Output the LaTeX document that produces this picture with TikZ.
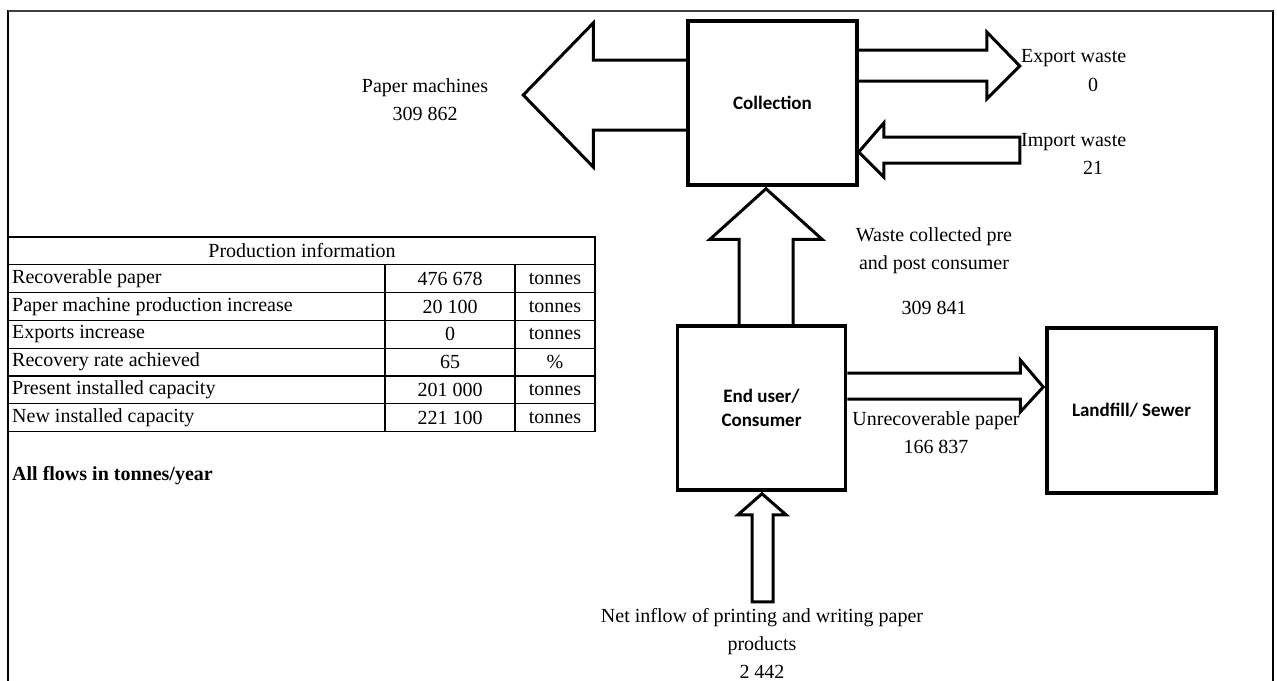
\documentclass[tikz,border=0pt]{standalone}
\usepackage{fontspec}
\setmainfont{Liberation Serif}
\newfontfamily\boxfont{Carlito}
\usetikzlibrary{calc}

\begin{document}
\begin{tikzpicture}[x=1pt,y=-1pt,
  box/.style={draw, line width=3.5pt, fill=white, inner sep=0pt, align=center,
    font=\boxfont\bfseries\fontsize{19}{24}\selectfont},
  flow/.style={draw, line width=3pt, line join=miter, fill=white},
  lbl/.style={inner sep=0pt, align=center, font=\fontsize{20}{28}\selectfont},
  cell/.style={inner sep=0pt, font=\fontsize{20}{24}\selectfont},
  grid/.style={line width=1.2pt},
  frame/.style={line width=2.6pt, line cap=rect}]
\useasboundingbox (0,0) rectangle (1277,680);

% outer frame, open at the bottom
\coordinate (ftl) at (8,11);
\coordinate (ftr) at (1273,11);
\coordinate (fbl) at (8,690);
\coordinate (fbr) at (1273,690);
\draw[frame] (fbl) -- (ftl);
\draw[frame] (ftr) -- (fbr);
\draw[line width=1.4pt, black!75] (ftl) -- (ftr);

% stages of the flow
\node[box, minimum width=169pt, minimum height=164pt] (coll) at (772.5,103) {Collection};
\node[box, minimum width=168pt, minimum height=164pt] (user) at (761.5,408) {End user/\\Consumer};
\node[box, minimum width=169pt, minimum height=165pt] (fill) at (1131.5,410.5) {Landfill/ Sewer};

% paper machines: out of collection to the left
\draw[flow] ($(coll.west)+(0,-43)$) -- ++(-93,0) -- ++(0,-37)
  -- ($(coll.west)+(-163,-8)$) -- ($(coll.west)+(-93,64)$) -- ++(0,-37) -- ($(coll.west)+(0,27)$);
% export waste: out of collection to the right
\draw[flow] ($(coll.east)+(0,-53)$) -- ++(128,0) -- ++(0,-18)
  -- ($(coll.east)+(161,-37)$) -- ($(coll.east)+(128,-4)$) -- ++(0,-18) -- ($(coll.east)+(0,-22)$);
% import waste: into collection from the right
\draw[flow] ($(coll.east)+(0,49)$) -- ++(25,-29) -- ++(0,14) -- ++(136,0) -- ++(0,26)
  -- ++(-136,0) -- ++(0,14) -- cycle;
% waste collected: from end user up to collection
\coordinate (upTip) at ($(coll.south)+(-6.5,2)$);
\draw[flow] ($(user.north)+(-22.5,0)$) -- ++(0,-85) -- ++(-29,0) -- (upTip)
  -- ($(user.north)+(60.5,-85)$) -- ++(-29,0) -- ++(0,85);
% unrecoverable paper: from end user to landfill
\coordinate (lfTip) at ($(fill.west)+(-2,-23.5)$);
\draw[flow] ($(user.east)+(0,-35)$) -- ++(173,0) -- ++(0,-13) -- (lfTip)
  -- ($(user.east)+(173,4)$) -- ++(0,-13) -- ++(-173,0);
% net inflow: into end user from below
\coordinate (inTip) at ($(user.south)+(0.5,2)$);
\draw[flow] (inTip) -- ++(24,21) -- ++(-13,0) -- ++(0,87) -- ++(-21,0) -- ++(0,-87)
  -- ++(-14,0) -- cycle;

% boxes again on top so their borders stay crisp
\node[box, minimum width=169pt, minimum height=164pt] at (coll) {Collection};
\node[box, minimum width=168pt, minimum height=164pt] at (user) {End user/\\Consumer};

% flow labels
\node[lbl] (lPM) at (425,100) {Paper machines\\309 862};
\node[lbl, anchor=west] (lEx) at (1021,58) {Export waste};
\node[lbl] (lEx0) at (1093,85) {0};
\node[lbl, anchor=west] (lIm) at (1021,142) {Import waste};
\node[lbl] (lIm0) at (1093,168) {21};
\node[lbl] (lWc) at (934,251) {Waste collected pre\\and post consumer};
\node[lbl] (lWc0) at (934,308) {309 841};
\node[lbl] (lUn) at (936,433) {Unrecoverable paper\\166 837};
\node[lbl] (lIn) at (762,643) {Net inflow of printing and writing paper\\products\\2 442};

% production information table
\def\rowh{27.8}
\draw[grid] (8,237) rectangle (595,{237+7*\rowh});
\foreach \r in {1,...,6} {
  \draw[grid] (8,{237+\rowh*\r}) -- (595,{237+\rowh*\r});
}
\draw[grid] (385,{237+\rowh}) -- (385,{237+7*\rowh});
\draw[grid] (515,{237+\rowh}) -- (515,{237+7*\rowh});
\node[cell] (tHead) at (302,{237+0.5*\rowh}) {Production information};
\foreach \t/\v/\u [count=\i] in {
  Recoverable paper/476 678/tonnes,
  Paper machine production increase/20 100/tonnes,
  Exports increase/0/tonnes,
  Recovery rate achieved/65/\%,
  Present installed capacity/201 000/tonnes,
  New installed capacity/221 100/tonnes} {
  \node[cell, anchor=west] (tA\i) at (12,{237+\rowh*(\i+0.5)}) {\t};
  \node[cell] (tB\i) at (450,{237+\rowh*(\i+0.5)}) {\v};
  \node[cell] (tC\i) at (555,{237+\rowh*(\i+0.5)}) {\u};
}
\node[cell, anchor=west, font=\fontsize{20}{24}\selectfont\bfseries] (note) at (12,476) {All flows in tonnes/year};
\end{tikzpicture}
\end{document}
